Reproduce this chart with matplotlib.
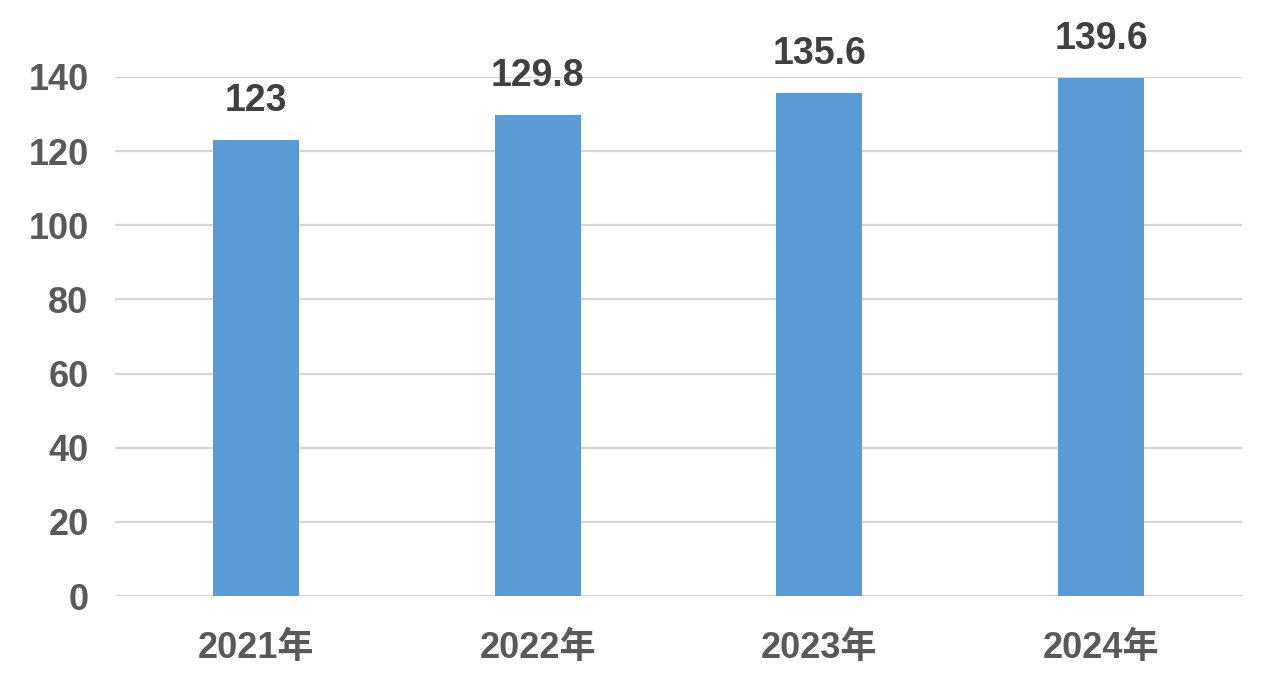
import matplotlib
matplotlib.use("Agg")
import matplotlib.pyplot as plt

categories = ["2021年", "2022年", "2023年", "2024年"]
values = [123, 129.8, 135.6, 139.6]
value_labels = ["123", "129.8", "135.6", "139.6"]
yticks = [0, 20, 40, 60, 80, 100, 120, 140]

plt.rcParams['font.family'] = ['Liberation Sans', 'Noto Sans CJK SC', 'DejaVu Sans']
plt.rcParams['font.weight'] = 'bold'

fig = plt.figure(figsize=(12.8, 6.97), dpi=100)
ax = fig.add_axes([115/1280, 1-596/697, (1242-115)/1280, (596-77)/697])

x = list(range(len(categories)))
bars = ax.bar(x, values, width=0.305, color="#5B9BD5", zorder=3)

ax.set_xlim(-0.5, len(categories)-0.5)
ax.set_ylim(0, 140)
ax.set_yticks(yticks)
ax.set_yticklabels([str(t) for t in yticks])
ax.set_xticks(x)
ax.set_xticklabels(categories)

ax.grid(axis='y', color='#d6d6d6', linewidth=1.6, zorder=0)
ax.set_axisbelow(True)
for s in ax.spines.values():
    s.set_visible(False)

ax.tick_params(axis='y', length=0, pad=19, labelsize=26, labelcolor='#595959')
ax.tick_params(axis='x', length=0, pad=25, labelsize=26, labelcolor='#595959')
for lab in ax.get_xticklabels() + ax.get_yticklabels():
    lab.set_fontweight('bold')

for xi, v, t in zip(x, values, value_labels):
    ax.annotate(t, (xi, v), xytext=(0, 21), textcoords='offset points',
                ha='center', va='baseline', fontsize=27, fontweight='bold',
                color='#404040', clip_on=False, annotation_clip=False)

fig.savefig("out.png", dpi=100)
